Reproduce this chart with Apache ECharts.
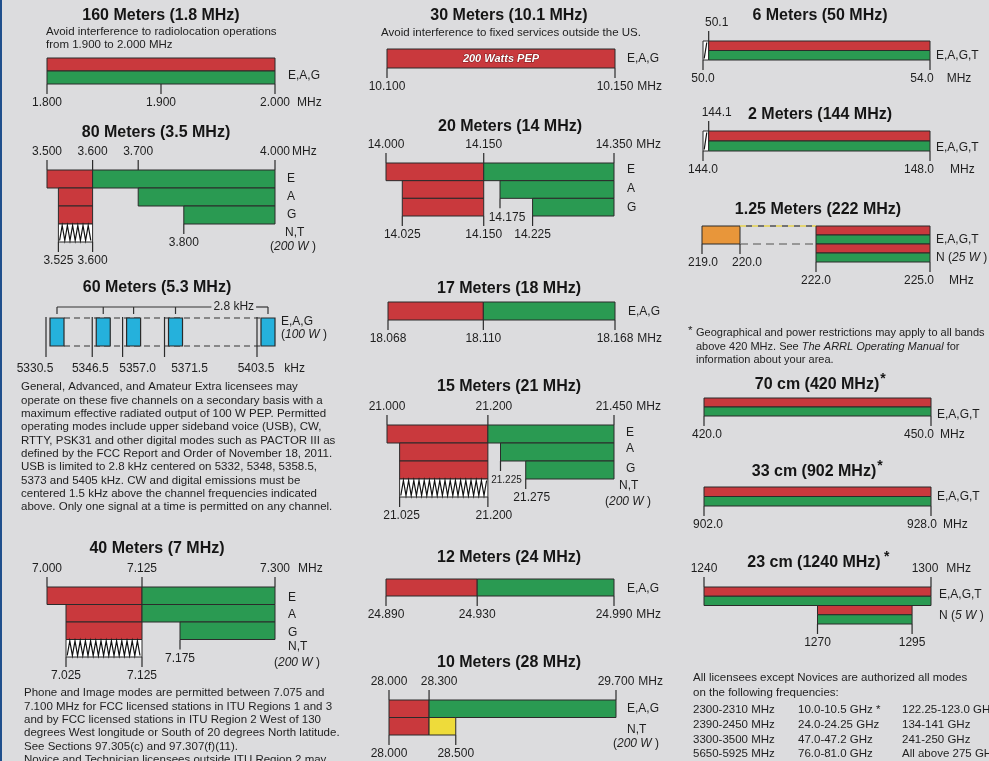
<!DOCTYPE html>
<html><head><meta charset="utf-8">
<script src="https://cdn.jsdelivr.net/npm/echarts@6/dist/echarts.min.js"></script>
<style>html,body{margin:0;padding:0;background:#dcdcde;overflow:hidden}#c{width:989px;height:761px}</style>
</head><body><div id="c"></div>
<script>
// ================= DATA =================
// segment: [rowTop, rowBottom, fromFreq, toFreq, mode]
// tick: [label, rowEdge, unit?]
const MODES = ['data','phone','cw','ssb','usb','fixed','gap'];

const m160_title = '160 Meters (1.8 MHz)';
const m160_range = [1.800, 2.000];
const m160_rows = 2;
const m160_segments = [[0,1,1.800,2.000,'data'],[1,2,1.800,2.000,'phone']];
const m160_ticksTop = [];
const m160_ticksBottom = [['1.800',2],['1.900',2],['2.000',2,'MHz']];
const m160_rowLabels = ['E,A,G'];
const m160_notes = ['Avoid interference to radiolocation operations','from 1.900 to 2.000 MHz'];

const m80_title = '80 Meters (3.5 MHz)';
const m80_range = [3.500, 4.000];
const m80_rows = 4;
const m80_segments = [[0,1,3.500,3.600,'data'],[0,1,3.600,4.000,'phone'],[1,2,3.525,3.600,'data'],[1,2,3.700,4.000,'phone'],[2,3,3.525,3.600,'data'],[2,3,3.800,4.000,'phone'],[3,4,3.525,3.600,'cw']];
const m80_ticksTop = [['3.500',0],['3.600',0],['3.700',0],['4.000',0,'MHz']];
const m80_ticksBottom = [['3.800',3],['3.525',4],['3.600',4]];
const m80_rowLabels = ['E','A','G','N,T','(200 W)'];

const m60_title = '60 Meters (5.3 MHz)';
const m60_range = [5330.5, 5403.5];
const m60_rows = 1;
const m60_channels = ['5330.5','5346.5','5357.0','5371.5','5403.5'];
const m60_unit = 'kHz';
const m60_bracketLabel = '2.8 kHz';
const m60_rowLabels = ['E,A,G','(100 W)'];
const m60_notes = [
 'General, Advanced, and Amateur Extra licensees may',
 'operate on these five channels on a secondary basis with a',
 'maximum effective radiated output of 100 W PEP. Permitted',
 'operating modes include upper sideband voice (USB), CW,',
 'RTTY, PSK31 and other digital modes such as PACTOR III as',
 'defined by the FCC Report and Order of November 18, 2011.',
 'USB is limited to 2.8 kHz centered on 5332, 5348, 5358.5,',
 '5373 and 5405 kHz. CW and digital emissions must be',
 'centered 1.5 kHz above the channel frequencies indicated',
 'above. Only one signal at a time is permitted on any channel.'
];

const m40_title = '40 Meters (7 MHz)';
const m40_range = [7.000, 7.300];
const m40_rows = 4;
const m40_segments = [[0,1,7.000,7.125,'data'],[0,1,7.125,7.300,'phone'],[1,2,7.025,7.125,'data'],[1,2,7.125,7.300,'phone'],[2,3,7.025,7.125,'data'],[2,3,7.175,7.300,'phone'],[3,4,7.025,7.125,'cw']];
const m40_ticksTop = [['7.000',0],['7.125',0],['7.300',0,'MHz']];
const m40_ticksBottom = [['7.175',3],['7.025',4],['7.125',4]];
const m40_rowLabels = ['E','A','G','N,T','(200 W)'];
const m40_notes = [
 'Phone and Image modes are permitted between 7.075 and',
 '7.100 MHz for FCC licensed stations in ITU Regions 1 and 3',
 'and by FCC licensed stations in ITU Region 2 West of 130',
 'degrees West longitude or South of 20 degrees North latitude.',
 'See Sections 97.305(c) and 97.307(f)(11).',
 'Novice and Technician licensees outside ITU Region 2 may'
];

const m30_title = '30 Meters (10.1 MHz)';
const m30_range = [10.100, 10.150];
const m30_rows = 1;
const m30_segments = [[0,1,10.100,10.150,'data']];
const m30_barNote = '200 Watts PEP';
const m30_ticksTop = [];
const m30_ticksBottom = [['10.100',1],['10.150',1,'MHz']];
const m30_rowLabels = ['E,A,G'];
const m30_notes = ['Avoid interference to fixed services outside the US.'];

const m20_title = '20 Meters (14 MHz)';
const m20_range = [14.000, 14.350];
const m20_rows = 3;
const m20_segments = [[0,1,14.000,14.150,'data'],[0,1,14.150,14.350,'phone'],[1,2,14.025,14.150,'data'],[1,2,14.175,14.350,'phone'],[2,3,14.025,14.150,'data'],[2,3,14.225,14.350,'phone']];
const m20_ticksTop = [['14.000',0],['14.150',0],['14.350',0,'MHz']];
const m20_ticksBottom = [['14.175',2],['14.025',3],['14.150',3],['14.225',3]];
const m20_rowLabels = ['E','A','G'];

const m17_title = '17 Meters (18 MHz)';
const m17_range = [18.068, 18.168];
const m17_rows = 1;
const m17_segments = [[0,1,18.068,18.110,'data'],[0,1,18.110,18.168,'phone']];
const m17_ticksTop = [];
const m17_ticksBottom = [['18.068',1],['18.110',1],['18.168',1,'MHz']];
const m17_rowLabels = ['E,A,G'];

const m15_title = '15 Meters (21 MHz)';
const m15_range = [21.000, 21.450];
const m15_rows = 4;
const m15_segments = [[0,1,21.000,21.200,'data'],[0,1,21.200,21.450,'phone'],[1,2,21.025,21.200,'data'],[1,2,21.225,21.450,'phone'],[2,3,21.025,21.200,'data'],[2,3,21.275,21.450,'phone'],[3,4,21.025,21.200,'cw']];
const m15_ticksTop = [['21.000',0],['21.200',0],['21.450',0,'MHz']];
const m15_ticksBottom = [['21.225',2],['21.275',3],['21.025',4],['21.200',4]];
const m15_rowLabels = ['E','A','G','N,T','(200 W)'];

const m12_title = '12 Meters (24 MHz)';
const m12_range = [24.890, 24.990];
const m12_rows = 1;
const m12_segments = [[0,1,24.890,24.930,'data'],[0,1,24.930,24.990,'phone']];
const m12_ticksTop = [];
const m12_ticksBottom = [['24.890',1],['24.930',1],['24.990',1,'MHz']];
const m12_rowLabels = ['E,A,G'];

const m10_title = '10 Meters (28 MHz)';
const m10_range = [28.000, 29.700];
const m10_rows = 2;
const m10_segments = [[0,1,28.000,28.300,'data'],[0,1,28.300,29.700,'phone'],[1,2,28.000,28.300,'data'],[1,2,28.300,28.500,'ssb']];
const m10_ticksTop = [['28.000',0],['28.300',0],['29.700',0,'MHz']];
const m10_ticksBottom = [['28.000',2],['28.500',2]];
const m10_rowLabels = ['E,A,G','N,T','(200 W)'];

const m6_title = '6 Meters (50 MHz)';
const m6_range = [50.0, 54.0];
const m6_rows = 2;
const m6_segments = [[0,2,50.0,50.1,'cw'],[0,1,50.1,54.0,'data'],[1,2,50.1,54.0,'phone']];
const m6_ticksTop = [['50.1',0]];
const m6_ticksBottom = [['50.0',2],['54.0',2,'MHz']];
const m6_rowLabels = ['E,A,G,T'];

const m2_title = '2 Meters (144 MHz)';
const m2_range = [144.0, 148.0];
const m2_rows = 2;
const m2_segments = [[0,2,144.0,144.1,'cw'],[0,1,144.1,148.0,'data'],[1,2,144.1,148.0,'phone']];
const m2_ticksTop = [['144.1',0]];
const m2_ticksBottom = [['144.0',2],['148.0',2,'MHz']];
const m2_rowLabels = ['E,A,G,T'];

const m125_title = '1.25 Meters (222 MHz)';
const m125_range = [219.0, 225.0];
const m125_rows = 4;
const m125_segments = [[0,2,219.0,220.0,'fixed'],[0,2,220.0,222.0,'gap'],[0,1,222.0,225.0,'data'],[1,2,222.0,225.0,'phone'],[2,3,222.0,225.0,'data'],[3,4,222.0,225.0,'phone']];
const m125_ticksTop = [];
const m125_ticksBottom = [['219.0',2],['220.0',2],['222.0',4],['225.0',4,'MHz']];
const m125_rowLabels = ['E,A,G,T','N (25 W)'];

const m70_title = '70 cm (420 MHz)*';
const m70_range = [420.0, 450.0];
const m70_rows = 2;
const m70_segments = [[0,1,420.0,450.0,'data'],[1,2,420.0,450.0,'phone']];
const m70_ticksTop = [];
const m70_ticksBottom = [['420.0',2],['450.0',2,'MHz']];
const m70_rowLabels = ['E,A,G,T'];

const m33_title = '33 cm (902 MHz)*';
const m33_range = [902.0, 928.0];
const m33_rows = 2;
const m33_segments = [[0,1,902.0,928.0,'data'],[1,2,902.0,928.0,'phone']];
const m33_ticksTop = [];
const m33_ticksBottom = [['902.0',2],['928.0',2,'MHz']];
const m33_rowLabels = ['E,A,G,T'];

const m23_title = '23 cm (1240 MHz) *';
const m23_range = [1240, 1300];
const m23_rows = 4;
const m23_segments = [[0,1,1240,1300,'data'],[1,2,1240,1300,'phone'],[2,3,1270,1295,'data'],[3,4,1270,1295,'phone']];
const m23_ticksTop = [['1240',0],['1300',0,'MHz']];
const m23_ticksBottom = [['1270',4],['1295',4]];
const m23_rowLabels = ['E,A,G,T','N (5 W)'];

const uhfNotes = ['*Geographical and power restrictions may apply to all bands','above 420 MHz. See {i|The ARRL Operating Manual} for','information about your area.'];
const allModesNotes = ['All licensees except Novices are authorized all modes','on the following frequencies:'];
const freqCol1 = ['2300-2310 MHz','2390-2450 MHz','3300-3500 MHz','5650-5925 MHz'];
const freqCol2 = ['10.0-10.5 GHz *','24.0-24.25 GHz','47.0-47.2 GHz','76.0-81.0 GHz'];
const freqCol3 = ['122.25-123.0 GHz','134-141 GHz','241-250 GHz','All above 275 GHz'];

// ================= LAYOUT / STYLE =================
const FONT = '"Liberation Sans", Arial, Helvetica, sans-serif';
const TXT = '#1e1e1e';
const OUTLINE = '#2b2b2b';
const COLORS = {data:'#c9393d', phone:'#2a9a52', cw:'#ffffff', ssb:'#eedb3a', usb:'#25b1dc', fixed:'#e8963a'};

const LAYOUT = {
 m160:{grid:[47,58,228,26], title:[161,16], unitGap:7, rowPos:[[288,76]]},
 m80:{grid:[47,170,228,72], title:[156,133], unitGap:2, rowPos:[[287,179],[287,197],[287,215],[285,233],[270,247]]},
 m60:{grid:[46,318,211,28], title:[157,288], unitGap:10, rowPos:[[281,322],[281,335]]},
 m40:{grid:[47,587,228,70], title:[157,549], unitGap:8, rowPos:[[288,598],[288,615],[288,633],[288,647],[274,663]]},
 m30:{grid:[387,49,228,19], title:[509,16], unitGap:4, rowPos:[[627,59]]},
 m20:{grid:[386,163,228,53], title:[510,127], unitGap:4, rowPos:[[627,170],[627,189],[627,208]]},
 m17:{grid:[388,302,227,18], title:[509,289], unitGap:4, rowPos:[[628,312]]},
 m15:{grid:[387,425,227,72], title:[509,387], unitGap:4, rowPos:[[626,433],[626,449],[626,469],[619,486],[605,502]]},
 m12:{grid:[386,579,228,17], title:[509,558], unitGap:4, rowPos:[[627,589]]},
 m10:{grid:[389,700,227,35], title:[509,663], unitGap:4, rowPos:[[627,709],[627,730],[613,744]]},
 m6:{grid:[703,41,227,19], title:[820,16], unitGap:13, rowPos:[[936,56]]},
 m2:{grid:[703,131,227,20], title:[820,115], unitGap:16, rowPos:[[936,148]]},
 m125:{grid:[702,226,228,36], title:[818,210], unitGap:15, rowPos:[[936,240],[936,258]]},
 m70:{grid:[704,398,227,18], title:[817,385], unitGap:6, rowPos:[[937,415]]},
 m33:{grid:[704,487,227,19], title:[814,472], unitGap:6, rowPos:[[937,497]]},
 m23:{grid:[704,587,227,37], title:[814,563], unitGap:8, rowPos:[[939,595],[939,616]]}
};
const LABEL_DX = {
 'm20|14.175':7, 'm15|21.225':6, 'm15|21.275':6, 'm15|21.025':2, 'm15|21.200':6,
 'm10|28.300':10, 'm6|50.1':8, 'm6|54.0':-8, 'm2|144.1':8, 'm2|148.0':-11,
 'm125|225.0':-11, 'm125|220.0':7, 'm125|219.0':1, 'm70|420.0':3, 'm70|450.0':-12,
 'm33|902.0':4, 'm33|928.0':-9, 'm23|1300':-6,
 'm60|5330.5':-11, 'm60|5346.5':-2, 'm60|5357.0':15, 'm60|5371.5':25, 'm60|5403.5':-1
};
const LABEL_FS = {'m15|21.225':10};

// ================= BUILD =================
const measureCtx = document.createElement('canvas').getContext('2d');
function tw(text, size, weight){ measureCtx.font = (weight||'normal')+' '+size+'px '+FONT; return measureCtx.measureText(text).width; }

function textEl(x, y, text, o){
  o = o || {};
  const size = o.size || 12, align = o.align || 'left';
  const style = {text:text, fill:o.fill||TXT, fontSize:size, fontFamily:FONT, fontWeight:o.weight||'normal',
    fontStyle:o.italic?'italic':'normal', align:align, verticalAlign:'middle', textAlign:align, textVerticalAlign:'middle'};
  if (o.rich) style.rich = o.rich;
  return {type:'text', x:x, y:y, silent:true, z:o.z||10, style:style};
}
function italicRich(size){ return {i:{fontStyle:'italic', fontSize:size, fontFamily:FONT, fill:TXT}}; }
function richify(label){ return label.replace(/\((\d+ W)\)/, '({i|$1} )'); }

const bands = [
 {id:'m160', title:m160_title, range:m160_range, rows:m160_rows, seg:m160_segments, top:m160_ticksTop, bottom:m160_ticksBottom, rowLabels:m160_rowLabels},
 {id:'m80', title:m80_title, range:m80_range, rows:m80_rows, seg:m80_segments, top:m80_ticksTop, bottom:m80_ticksBottom, rowLabels:m80_rowLabels},
 {id:'m60', title:m60_title, range:m60_range, rows:m60_rows, seg:[], top:[], bottom:[], rowLabels:m60_rowLabels},
 {id:'m40', title:m40_title, range:m40_range, rows:m40_rows, seg:m40_segments, top:m40_ticksTop, bottom:m40_ticksBottom, rowLabels:m40_rowLabels},
 {id:'m30', title:m30_title, range:m30_range, rows:m30_rows, seg:m30_segments, top:m30_ticksTop, bottom:m30_ticksBottom, rowLabels:m30_rowLabels, barNote:m30_barNote},
 {id:'m20', title:m20_title, range:m20_range, rows:m20_rows, seg:m20_segments, top:m20_ticksTop, bottom:m20_ticksBottom, rowLabels:m20_rowLabels},
 {id:'m17', title:m17_title, range:m17_range, rows:m17_rows, seg:m17_segments, top:m17_ticksTop, bottom:m17_ticksBottom, rowLabels:m17_rowLabels},
 {id:'m15', title:m15_title, range:m15_range, rows:m15_rows, seg:m15_segments, top:m15_ticksTop, bottom:m15_ticksBottom, rowLabels:m15_rowLabels},
 {id:'m12', title:m12_title, range:m12_range, rows:m12_rows, seg:m12_segments, top:m12_ticksTop, bottom:m12_ticksBottom, rowLabels:m12_rowLabels},
 {id:'m10', title:m10_title, range:m10_range, rows:m10_rows, seg:m10_segments, top:m10_ticksTop, bottom:m10_ticksBottom, rowLabels:m10_rowLabels},
 {id:'m6', title:m6_title, range:m6_range, rows:m6_rows, seg:m6_segments, top:m6_ticksTop, bottom:m6_ticksBottom, rowLabels:m6_rowLabels},
 {id:'m2', title:m2_title, range:m2_range, rows:m2_rows, seg:m2_segments, top:m2_ticksTop, bottom:m2_ticksBottom, rowLabels:m2_rowLabels},
 {id:'m125', title:m125_title, range:m125_range, rows:m125_rows, seg:m125_segments, top:m125_ticksTop, bottom:m125_ticksBottom, rowLabels:m125_rowLabels},
 {id:'m70', title:m70_title, range:m70_range, rows:m70_rows, seg:m70_segments, top:m70_ticksTop, bottom:m70_ticksBottom, rowLabels:m70_rowLabels},
 {id:'m33', title:m33_title, range:m33_range, rows:m33_rows, seg:m33_segments, top:m33_ticksTop, bottom:m33_ticksBottom, rowLabels:m33_rowLabels},
 {id:'m23', title:m23_title, range:m23_range, rows:m23_rows, seg:m23_segments, top:m23_ticksTop, bottom:m23_ticksBottom, rowLabels:m23_rowLabels}
];

function zigzag(x, y, w, h){
  const pts = []; const step = 2.6; let k = 0;
  const t = y + 1.5, b = y + h - 1.5;
  for (let px = x + 1.2; px <= x + w - 1; px += step) { pts.push([px, (k % 2) ? t : b]); k++; }
  return pts;
}

function makeSegRender(band){
  return function(params, api){
    const mode = MODES[api.value(4)];
    const a = api.coord([api.value(0), api.value(2)]);
    const b = api.coord([api.value(1), api.value(3)]);
    const x = a[0], y = a[1], w = b[0] - a[0], h = b[1] - a[1];
    const children = [];
    if (mode === 'gap') {
      children.push({type:'line', shape:{x1:x, y1:y, x2:x+w, y2:y}, style:{stroke:'#e6cf3a', lineWidth:1.3, lineDash:[6,6]}});
      children.push({type:'line', shape:{x1:x, y1:y, x2:x+w, y2:y}, style:{stroke:'#3a3a3a', lineWidth:1.3, lineDash:[6,6], lineDashOffset:6}});
      children.push({type:'line', shape:{x1:x, y1:y+h, x2:x+w, y2:y+h}, style:{stroke:'#808080', lineWidth:1.3, lineDash:[8,5]}});
      return {type:'group', children:children};
    }
    children.push({type:'rect', shape:{x:x, y:y, width:w, height:h}, style:{fill:COLORS[mode], stroke:OUTLINE, lineWidth:1}});
    if (mode === 'cw') children.push({type:'polyline', shape:{points:zigzag(x, y, w, h)}, style:{stroke:'#111', fill:null, lineWidth:1.2}});
    if (band.barNote && params.dataIndex === 0) {
      children.push({type:'text', x:x + w/2, y:y + h/2, style:{text:band.barNote, fill:'#ffffff', fontSize:11, fontWeight:'bold', fontStyle:'italic', fontFamily:FONT,
        align:'center', verticalAlign:'middle', textAlign:'center', textVerticalAlign:'middle', stroke:'#7a1b1e', lineWidth:1}});
    }
    return {type:'group', children:children};
  };
}

function makeTickRender(band, ticks, dir){
  const L = LAYOUT[band.id];
  return function(params, api){
    const t = ticks[params.dataIndex];
    const p = api.coord([parseFloat(t[0]), t[1]]);
    const key = band.id + '|' + t[0];
    const dx = LABEL_DX[key] || 0, fs = LABEL_FS[key] || 12;
    const ly = p[1] + (dir < 0 ? -18 : 19);
    const children = [
      {type:'line', shape:{x1:p[0], y1:p[1], x2:p[0], y2:p[1] + dir*10}, style:{stroke:OUTLINE, lineWidth:1.2}},
      textEl(p[0] + dx, ly, t[0], {size:fs, align:'center'})
    ];
    if (t[2]) children.push(textEl(p[0] + dx + tw(t[0], fs)/2 + L.unitGap, ly, t[2], {size:12}));
    return {type:'group', children:children};
  };
}

const grids = [], xAxes = [], yAxes = [], series = [], graphics = [];

graphics.push({type:'rect', shape:{x:0, y:0, width:2, height:761}, style:{fill:'#1f4f8c'}, silent:true});

bands.forEach(function(band, i){
  const L = LAYOUT[band.id];
  grids.push({left:L.grid[0], top:L.grid[1], width:L.grid[2], height:L.grid[3], show:false});
  xAxes.push({type:'value', gridIndex:i, min:band.range[0], max:band.range[1], show:false});
  yAxes.push({type:'value', gridIndex:i, min:0, max:band.rows, inverse:true, show:false});
  if (band.seg.length) series.push({type:'custom', coordinateSystem:'cartesian2d', xAxisIndex:i, yAxisIndex:i, clip:false, silent:true,
    data:band.seg.map(function(s){ return [s[2], s[3], s[0], s[1], MODES.indexOf(s[4])]; }), encode:{x:[0,1], y:[2,3]}, renderItem:makeSegRender(band)});
  if (band.top.length) series.push({type:'custom', coordinateSystem:'cartesian2d', xAxisIndex:i, yAxisIndex:i, clip:false, silent:true,
    data:band.top.map(function(t){ return [parseFloat(t[0]), t[1]]; }), encode:{x:0, y:1}, renderItem:makeTickRender(band, band.top, -1)});
  if (band.bottom.length) series.push({type:'custom', coordinateSystem:'cartesian2d', xAxisIndex:i, yAxisIndex:i, clip:false, silent:true,
    data:band.bottom.map(function(t){ return [parseFloat(t[0]), t[1]]; }), encode:{x:0, y:1}, renderItem:makeTickRender(band, band.bottom, 1)});

  let title = band.title, star = false;
  if (title.endsWith('*')) { title = title.slice(0, -1); star = true; }
  graphics.push(textEl(L.title[0], L.title[1], title.trim(), {size:16, weight:'bold', align:'center', fill:'#151515'}));
  if (star) graphics.push(textEl(L.title[0] + tw(title, 16, 'bold')/2 + 1, L.title[1] - 6, '*', {size:14, weight:'bold', fill:'#151515'}));
  band.rowLabels.forEach(function(lab, k){
    const pos = L.rowPos[k];
    graphics.push(textEl(pos[0], pos[1], richify(lab), {size:12, rich:italicRich(12)}));
  });
});

// ---- 60 m channels ----
const i60 = bands.findIndex(function(b){ return b.id === 'm60'; });
series.push({type:'custom', coordinateSystem:'cartesian2d', xAxisIndex:i60, yAxisIndex:i60, clip:false, silent:true,
  data:[[parseFloat(m60_channels[0]), parseFloat(m60_channels[m60_channels.length-1])]], encode:{x:[0,1]},
  renderItem:function(params, api){
    const cs = m60_channels.map(function(c){ return api.coord([parseFloat(c), 0]); });
    const yb = api.coord([parseFloat(m60_channels[0]), 1])[1];
    const yt = cs[0][1];
    const children = [];
    const xs = cs[0][0] + 18, xe = cs[cs.length-1][0] + 4;
    children.push({type:'line', shape:{x1:xs, y1:yt, x2:xe, y2:yt}, style:{stroke:'#333', lineWidth:1.2, lineDash:[6,4]}});
    children.push({type:'line', shape:{x1:xs, y1:yb, x2:xe, y2:yb}, style:{stroke:'#333', lineWidth:1.2, lineDash:[6,4]}});
    const by = yt - 11;
    const c0 = cs[0][0] + 11, cN = cs[cs.length-1][0] + 11;
    const lx = (cs[cs.length-2][0] + cs[cs.length-1][0]) / 2 + 23;
    const half = tw(m60_bracketLabel, 12) / 2 + 2;
    children.push({type:'line', shape:{x1:c0, y1:by, x2:lx-half, y2:by}, style:{stroke:'#333', lineWidth:1.2}});
    children.push({type:'line', shape:{x1:lx+half, y1:by, x2:cN, y2:by}, style:{stroke:'#333', lineWidth:1.2}});
    cs.forEach(function(c){ children.push({type:'line', shape:{x1:c[0]+11, y1:by, x2:c[0]+11, y2:by+7}, style:{stroke:'#333', lineWidth:1.2}}); });
    children.push(textEl(lx, by, m60_bracketLabel, {size:12, align:'center'}));
    return {type:'group', children:children};
  }});
series.push({type:'custom', coordinateSystem:'cartesian2d', xAxisIndex:i60, yAxisIndex:i60, clip:false, silent:true,
  data:m60_channels.map(function(c){ return [parseFloat(c), 0]; }), encode:{x:0, y:1},
  renderItem:function(params, api){
    const lab = m60_channels[params.dataIndex];
    const f = parseFloat(lab);
    const a = api.coord([f, 0]), b = api.coord([f, 1]);
    const x = a[0], y0 = a[1], y1 = b[1];
    const dx = LABEL_DX['m60|' + lab] || 0;
    const children = [
      {type:'line', shape:{x1:x, y1:y0-1, x2:x, y2:y1+11}, style:{stroke:OUTLINE, lineWidth:1.2}},
      {type:'rect', shape:{x:x+4, y:y0, width:14, height:y1-y0}, style:{fill:COLORS.usb, stroke:OUTLINE, lineWidth:1.2}},
      textEl(x + dx, y1 + 23, lab, {size:12, align:'center'})
    ];
    if (params.dataIndex === m60_channels.length - 1) children.push(textEl(x + dx + tw(lab, 12)/2 + LAYOUT.m60.unitGap, y1 + 23, m60_unit, {size:12}));
    return {type:'group', children:children};
  }});

// ---- notes ----
m160_notes.forEach(function(t, k){ graphics.push(textEl(46, 32 + k*13, t, {size:11.5})); });
m30_notes.forEach(function(t){ graphics.push(textEl(511, 33, t, {size:11.5, align:'center'})); });
m60_notes.forEach(function(t, k){ graphics.push(textEl(21, 387.3 + k*13.33, t, {size:11.5})); });
m40_notes.forEach(function(t, k){ graphics.push(textEl(24, 693.3 + k*13.33, t, {size:11.5})); });
graphics.push(textEl(688, 331, '*', {size:11.5}));
uhfNotes.forEach(function(t, k){
  const s = k === 0 ? t.slice(1) : t;
  graphics.push(textEl(696, 333.3 + k*13.3, s, {size:11, rich:{i:{fontStyle:'italic', fontSize:11, fontFamily:FONT, fill:TXT}}}));
});
allModesNotes.forEach(function(t, k){ graphics.push(textEl(693, 678.3 + k*15, t, {size:11.5})); });
[freqCol1, freqCol2, freqCol3].forEach(function(col, c){
  const x = [693, 798, 902][c];
  col.forEach(function(t, k){ graphics.push(textEl(x, 710 + k*14.7, t, {size:11.5})); });
});

const chart = echarts.init(document.getElementById('c'), null, {renderer:'canvas'});
chart.setOption({
  backgroundColor:'#dcdcde',
  animation:false,
  grid:grids, xAxis:xAxes, yAxis:yAxes, series:series, graphic:{elements:graphics}
});
</script></body></html>
